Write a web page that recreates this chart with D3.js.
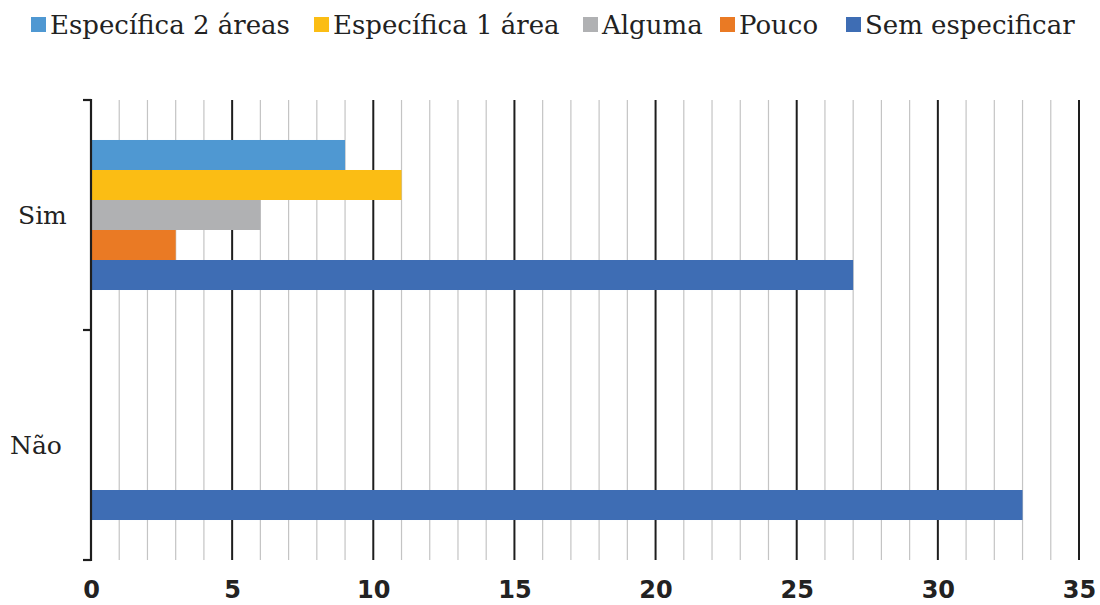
<!DOCTYPE html>
<html><head><meta charset="utf-8">
<script src="https://cdn.jsdelivr.net/npm/d3@7"></script>
<style>body{margin:0;background:#fff}</style>
</head><body>
<svg id="c" width="1100" height="605"></svg>
<script>
const categories = ["Sim", "Não"];
const series = ["Específica 2 áreas", "Específica 1 área", "Alguma", "Pouco", "Sem especificar"];
const colors = ["#4f98d2", "#fbbd14", "#b0b1b3", "#ea7a24", "#3e6db4"];
const valuesSim = [9, 11, 6, 3, 27];
const valuesNao = [0, 0, 0, 0, 33];
const xTicks = [0, 5, 10, 15, 20, 25, 30, 35];

const data = categories.map((c, i) => ({cat: c, vals: i === 0 ? valuesSim : valuesNao}));
const svg = d3.select("#c");
const pLeft = 91, pRight = 1079, pTop = 100, pBottom = 560;

const x = d3.scaleLinear().domain([0, 35]).range([pLeft, pRight]);
const y = d3.scaleBand().domain(categories).range([pTop, pBottom]);
const inner = d3.scaleBand().domain(series).range([0, y.bandwidth()]).paddingOuter(1.333);

// minor grid
svg.append("g").selectAll("line").data(d3.range(1, 36).filter(v => v % 5 !== 0)).join("line")
  .attr("x1", d => x(d)).attr("x2", d => x(d)).attr("y1", pTop).attr("y2", pBottom)
  .attr("stroke", "#c4c4c4").attr("stroke-width", 1.2);
// major grid
svg.append("g").selectAll("line").data(xTicks.filter(v => v > 0)).join("line")
  .attr("x1", d => x(d)).attr("x2", d => x(d)).attr("y1", pTop).attr("y2", pBottom)
  .attr("stroke", "#1e1e1e").attr("stroke-width", 2);

// bars
data.forEach(d => {
  svg.append("g").selectAll("rect").data(series.map((s, i) => ({s, v: d.vals[i], c: colors[i]}))).join("rect")
    .attr("x", x(0)).attr("y", e => y(d.cat) + inner(e.s))
    .attr("width", e => x(e.v) - x(0)).attr("height", inner.bandwidth())
    .attr("fill", e => e.c);
});

// y axis
svg.append("line").attr("x1", x(0)).attr("x2", x(0)).attr("y1", pTop - 1).attr("y2", pBottom + 1)
  .attr("stroke", "#1e1e1e").attr("stroke-width", 2.2);
const bounds = [pTop, ...categories.map(c => y(c) + y.bandwidth())];
svg.append("g").selectAll("line").data(bounds).join("line")
  .attr("x1", x(0) - 8).attr("x2", x(0)).attr("y1", d => d).attr("y2", d => d)
  .attr("stroke", "#1e1e1e").attr("stroke-width", 2.2);

const catX = [18, 10];
svg.append("g").selectAll("text").data(categories).join("text")
  .attr("x", (d, i) => catX[i]).attr("y", d => y(d) + y.bandwidth() / 2)
  .attr("dy", "0.35em")
  .attr("font-family", "DejaVu Serif").attr("font-size", 25).attr("fill", "#222")
  .text(d => d);

// x labels
const xa = svg.append("g").attr("transform", `translate(0,${pBottom})`)
  .call(d3.axisBottom(x).tickValues(xTicks).tickSize(0).tickPadding(21).tickFormat(d3.format("d")));
xa.select(".domain").remove();
xa.selectAll("text").attr("font-family", "DejaVu Sans").attr("font-weight", "bold")
  .attr("font-size", 24).attr("fill", "#222");

// legend
const legX = [31, 314, 583, 720, 846];
const lg = svg.append("g").selectAll("g").data(series).join("g")
  .attr("transform", (d, i) => `translate(${legX[i]},17)`);
lg.append("rect").attr("width", 15).attr("height", 15).attr("fill", (d, i) => colors[i]);
lg.append("text").attr("x", 19).attr("y", 8).attr("dy", "0.35em")
  .attr("font-family", "DejaVu Serif").attr("font-size", 26).attr("fill", "#222").text(d => d);
</script>
</body></html>
